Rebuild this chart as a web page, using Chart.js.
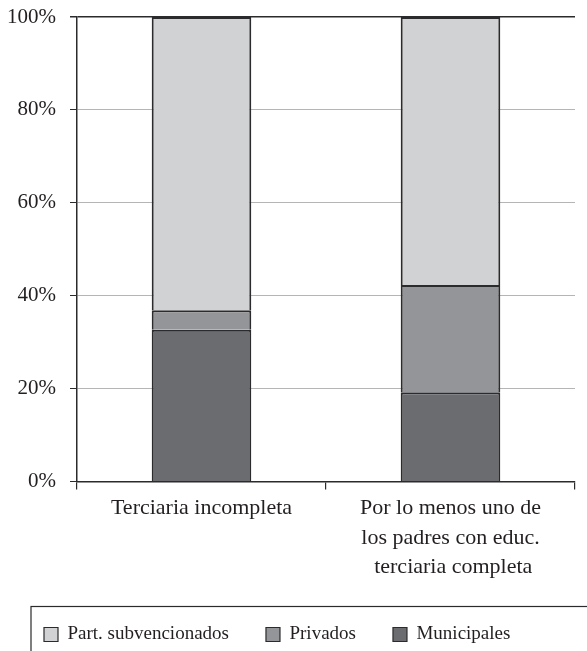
<!DOCTYPE html>
<html>
<head>
<meta charset="utf-8">
<script src="https://cdn.jsdelivr.net/npm/chart.js@4/dist/chart.umd.min.js"></script>
<style>
  html, body { margin: 0; padding: 0; background: #ffffff; }
  #wrap { width: 587px; height: 651px; position: relative; }
</style>
</head>
<body>
<div id="wrap"><canvas id="grafico"></canvas></div>
<script>
// categorias del eje x (etiquetas en varias lineas)
var categorias = [
    ["Terciaria incompleta"],
    ["Por lo menos uno de", "los padres con educ.", " terciaria completa"]
];
// porcentajes por tipo de establecimiento (apilados)
var municipales = [32.7, 19.2];
var privados = [4.2, 23.1];
var subvencionados = [63.1, 57.7];
var ticksY = [0, 20, 40, 60, 80, 100];

var TEXTO = "#231f20";
var BORDE = "#2b2a2c";
var FUENTE = "'Liberation Serif', 'Times New Roman', serif";

// marco del recuadro de leyenda, que se sale por la derecha y por abajo
var marcoLeyenda = {
    id: "marcoLeyenda",
    afterDraw: function (chart) {
        var leyenda = chart.legend;
        if (!leyenda || !leyenda.legendHitBoxes.length) { return; }
        var primero = leyenda.legendHitBoxes[0];
        var centroY = primero.top + primero.height / 2;
        var ctx = chart.ctx;
        ctx.save();
        ctx.strokeStyle = BORDE;
        ctx.lineWidth = 1.2;
        ctx.strokeRect(primero.left - 13, centroY - 28, chart.width, 200);
        ctx.restore();
    }
};

new Chart(document.getElementById("grafico").getContext("2d"), {
    type: "bar",
    data: {
        labels: categorias,
        datasets: [
            { label: "Municipales", data: municipales, backgroundColor: "#6b6c70" },
            { label: "Privados", data: privados, backgroundColor: "#949598" },
            { label: "Part. subvencionados", data: subvencionados, backgroundColor: "#d1d2d4" }
        ]
    },
    options: {
        responsive: true,
        maintainAspectRatio: false,
        animation: false,
        datasets: {
            bar: {
                borderColor: BORDE,
                borderWidth: 2,
                barPercentage: 0.4,
                categoryPercentage: 1
            }
        },
        layout: { padding: { left: 7, right: 12, top: 0, bottom: -3 } },
        plugins: {
            tooltip: { enabled: false },
            legend: {
                position: "bottom",
                align: "start",
                reverse: true,
                labels: {
                    color: TEXTO,
                    font: { family: FUENTE, size: 19 },
                    boxWidth: 14,
                    boxHeight: 14,
                    padding: 37,
                    generateLabels: function (chart) {
                        return chart.data.datasets.map(function (d, i) {
                            return {
                                text: d.label,
                                fillStyle: d.backgroundColor,
                                strokeStyle: BORDE,
                                lineWidth: 1.2,
                                datasetIndex: i,
                                fontColor: TEXTO
                            };
                        });
                    }
                }
            }
        },
        scales: {
            x: {
                stacked: true,
                border: { display: true, color: BORDE, width: 1.5 },
                afterFit: function (eje) { eje.height += 2; },
                grid: {
                    offset: true,
                    color: function (c) { return c.index === categorias.length ? BORDE : "rgba(0,0,0,0)"; },
                    tickColor: BORDE,
                    tickLength: 8,
                    lineWidth: 1.2
                },
                ticks: {
                    color: TEXTO,
                    font: { family: FUENTE, size: 22, lineHeight: 1.34 },
                    padding: 4,
                    maxRotation: 0
                }
            },
            y: {
                stacked: true,
                min: 0,
                max: 100,
                border: { display: true, color: BORDE, width: 1.5 },
                afterFit: function (eje) {
                    eje.width = 70;
                    eje.paddingTop = 17;
                    eje.paddingBottom = 0;
                },
                afterBuildTicks: function (eje) {
                    eje.ticks = ticksY.map(function (v) { return { value: v }; });
                },
                grid: {
                    color: function (c) {
                        return (c.tick && (c.tick.value === 100 || c.tick.value === 0)) ? BORDE : "#b4b5b7";
                    },
                    lineWidth: function (c) {
                        return (c.tick && c.tick.value === 100) ? 1.5 : 1;
                    },
                    tickColor: BORDE,
                    tickLength: 7
                },
                ticks: {
                    color: TEXTO,
                    font: { family: FUENTE, size: 21 },
                    padding: 14,
                    callback: function (v) { return v + "%"; }
                }
            }
        }
    },
    plugins: [marcoLeyenda]
});
</script>
</body>
</html>
